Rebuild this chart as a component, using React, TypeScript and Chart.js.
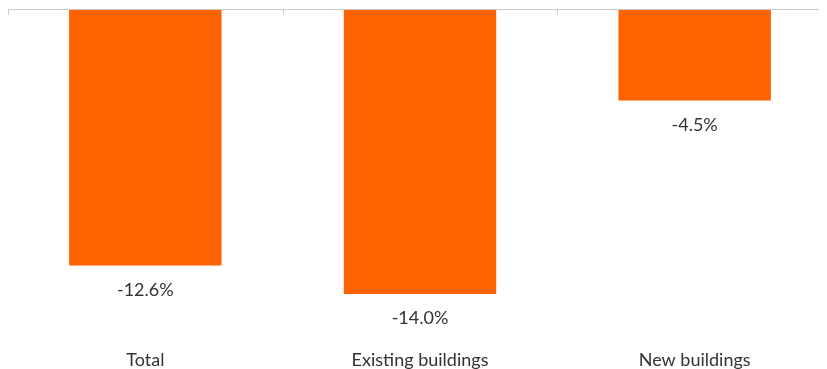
import React, { useEffect, useRef } from "react";
import { Chart, registerables } from "chart.js";

Chart.register(...registerables);

const categories = ["Total", "Existing buildings", "New buildings"];
const values = [-12.6, -14.0, -4.5];
const valueLabels = ["-12.6%", "-14.0%", "-4.5%"];

const FONT = "Lato, 'Open Sans', sans-serif";
const TEXT = "#333333";

const topAxisPlugin = {
  id: "topAxis",
  afterDraw(chart: any) {
    const { ctx, chartArea } = chart;
    const x = chart.scales.x;
    const n = categories.length;
    const step = (x.right - x.left) / n;
    ctx.save();
    ctx.strokeStyle = "#cccccc";
    ctx.lineWidth = 1;
    ctx.beginPath();
    ctx.moveTo(x.left, chartArea.top + 0.5);
    ctx.lineTo(x.right, chartArea.top + 0.5);
    for (let i = 0; i <= n; i++) {
      const px = Math.round(x.left + i * step) + 0.5;
      ctx.moveTo(px, chartArea.top);
      ctx.lineTo(px, chartArea.top + 6);
    }
    ctx.stroke();
    ctx.restore();
  },
};

const valueLabelPlugin = {
  id: "valueLabels",
  afterDatasetsDraw(chart: any) {
    const { ctx } = chart;
    const meta = chart.getDatasetMeta(0);
    ctx.save();
    ctx.fillStyle = TEXT;
    ctx.font = `18px ${FONT}`;
    ctx.textAlign = "center";
    ctx.textBaseline = "middle";
    meta.data.forEach((bar: any, i: number) => {
      ctx.fillText(valueLabels[i], bar.x, bar.y + 24.5);
    });
    ctx.restore();
  },
};

export default function App() {
  const ref = useRef<HTMLCanvasElement | null>(null);
  useEffect(() => {
    if (!ref.current) return;
    const chart = new Chart(ref.current, {
      type: "bar",
      data: {
        labels: categories,
        datasets: [
          {
            data: values,
            backgroundColor: "#ff6200",
            borderWidth: 0,
            categoryPercentage: 1,
            barPercentage: 0.555,
          },
        ],
      },
      options: {
        animation: false,
        responsive: false,
        maintainAspectRatio: false,
        layout: { padding: { top: 1, left: 0, right: 0, bottom: 0 } },
        plugins: {
          legend: { display: false },
          tooltip: { enabled: false },
        },
        scales: {
          x: {
            position: "bottom",
            grid: { display: false, drawTicks: false },
            border: { display: false },
            ticks: {
              color: TEXT,
              font: { family: FONT, size: 18, lineHeight: 1.2 },
              padding: 3,
              maxRotation: 0,
            },
          },
          y: {
            display: false,
            min: -16.58,
            max: 0,
          },
        },
      },
      plugins: [topAxisPlugin, valueLabelPlugin],
    });
    return () => chart.destroy();
  }, []);
  return (
    <div style={{ width: 819, height: 361, overflow: "hidden" }}>
      <canvas ref={ref} width={824} height={366} style={{ display: "block", width: 824, height: 366 }} />
    </div>
  );
}
